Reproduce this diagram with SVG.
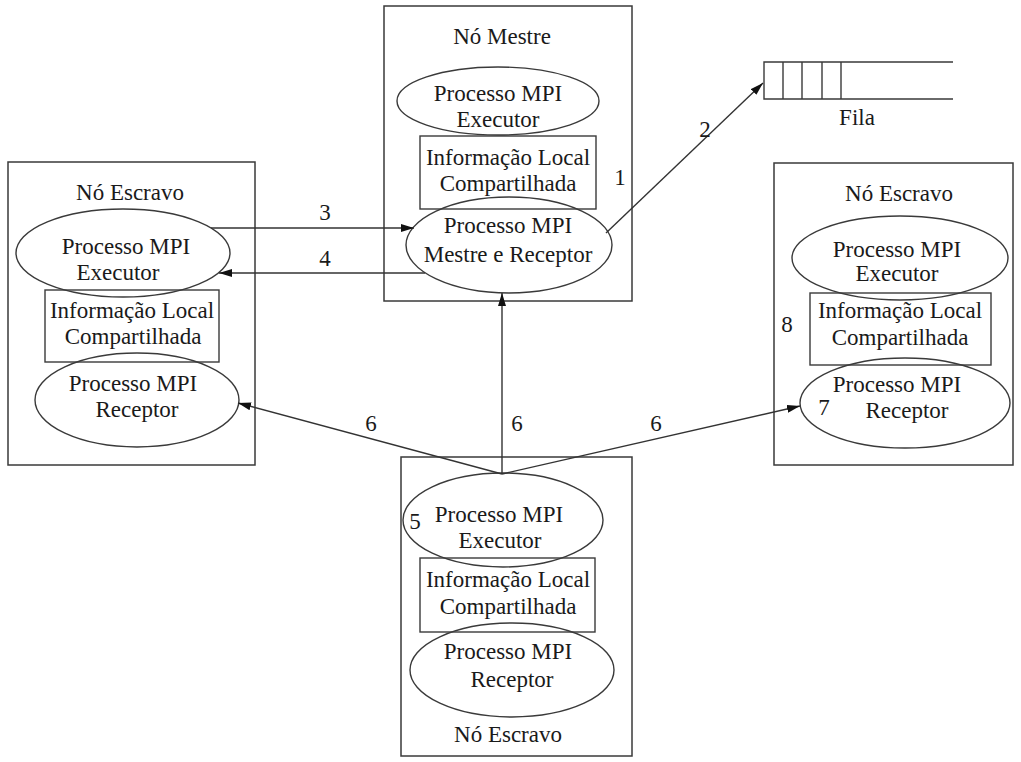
<svg xmlns="http://www.w3.org/2000/svg" width="1021" height="762" viewBox="0 0 1021 762">
<style>
.box{fill:none;stroke:#3a3a3a;stroke-width:1.5}
.sh{fill:none;stroke:#3a3a3a;stroke-width:1.4}
.t{font-family:"Liberation Serif","Times New Roman",serif;font-size:23px;fill:#1a1a1a;text-anchor:middle}
.c{stroke:#333;stroke-width:1.4;fill:none;marker-end:url(#ah)}
</style>
<defs>
<marker id="ah" markerUnits="userSpaceOnUse" markerWidth="13" markerHeight="8" refX="13" refY="4" orient="auto">
<path d="M0,0 L13,4 L0,8 z" fill="#111"/>
</marker>
</defs>
<rect width="1021" height="762" fill="#fff"/>

<g id="master">
<rect class="box" x="384" y="6" width="248" height="295"/>
<text class="t" x="502" y="44">Nó Mestre</text>
<g id="master-exec"><ellipse class="sh" cx="498" cy="101" rx="101" ry="34"/>
<text class="t" x="498" y="101">Processo MPI</text><text class="t" x="498" y="127">Executor</text></g>
<g id="master-info"><rect class="sh" x="420" y="136" width="176" height="73"/>
<text class="t" x="508" y="165">Informação Local</text><text class="t" x="508" y="191">Compartilhada</text></g>
<g id="master-recv"><ellipse class="sh" cx="509" cy="245" rx="103" ry="48"/>
<text class="t" x="508" y="233">Processo MPI</text><text class="t" x="508" y="262">Mestre e Receptor</text></g>
<text class="t" x="620" y="185">1</text>
</g>

<g id="slave-left">
<rect class="box" x="8" y="162" width="247" height="303"/>
<text class="t" x="130" y="200">Nó Escravo</text>
<g id="left-exec"><ellipse class="sh" cx="123" cy="253" rx="107" ry="44"/>
<text class="t" x="126" y="254">Processo MPI</text><text class="t" x="118" y="280">Executor</text></g>
<g id="left-info"><rect class="sh" x="45" y="290" width="174" height="72"/>
<text class="t" x="132" y="318">Informação Local</text><text class="t" x="133" y="344">Compartilhada</text></g>
<g id="left-recv"><ellipse class="sh" cx="137" cy="400" rx="102" ry="47"/>
<text class="t" x="133" y="391">Processo MPI</text><text class="t" x="137" y="417">Receptor</text></g>
</g>

<g id="slave-right">
<rect class="box" x="774" y="163" width="239" height="302"/>
<text class="t" x="899" y="201">Nó Escravo</text>
<g id="right-exec"><ellipse class="sh" cx="900" cy="258" rx="108" ry="42"/>
<text class="t" x="897" y="257">Processo MPI</text><text class="t" x="897" y="281">Executor</text></g>
<g id="right-info"><rect class="sh" x="810" y="293" width="181" height="72"/>
<text class="t" x="900" y="318">Informação Local</text><text class="t" x="900" y="345">Compartilhada</text></g>
<g id="right-recv"><ellipse class="sh" cx="905" cy="403" rx="105" ry="45"/>
<text class="t" x="897" y="392">Processo MPI</text><text class="t" x="907" y="418">Receptor</text></g>
<text class="t" x="787" y="332">8</text>
<text class="t" x="824" y="415">7</text>
</g>

<g id="slave-bottom">
<rect class="box" x="401" y="457" width="231" height="299"/>
<g id="bottom-exec"><ellipse class="sh" cx="503" cy="520" rx="100" ry="47"/>
<text class="t" x="499" y="522">Processo MPI</text><text class="t" x="500" y="548">Executor</text></g>
<g id="bottom-info"><rect class="sh" x="420" y="558" width="175" height="74"/>
<text class="t" x="508" y="587">Informação Local</text><text class="t" x="508" y="614">Compartilhada</text></g>
<g id="bottom-recv"><ellipse class="sh" cx="512" cy="670" rx="102" ry="47"/>
<text class="t" x="508" y="659">Processo MPI</text><text class="t" x="512" y="687">Receptor</text></g>
<text class="t" x="508" y="742">Nó Escravo</text>
<text class="t" x="415" y="529">5</text>
</g>

<g id="queue">
<path class="sh" d="M953,62 H764 V99 H953 M783,62 V99 M802,62 V99 M822,62 V99 M841,62 V99"/>
<text class="t" x="857" y="125">Fila</text>
</g>

<g id="connectors">
<line class="c" x1="606" y1="233" x2="763" y2="83"/>
<line class="c" x1="211" y1="228" x2="414" y2="228"/>
<line class="c" x1="425" y1="273" x2="219" y2="273"/>
<line class="c" x1="502" y1="474" x2="502" y2="293"/>
<line class="c" x1="502" y1="474" x2="238" y2="403"/>
<line class="c" x1="502" y1="474" x2="800" y2="406"/>
<g id="connector-labels">
<text class="t" x="705" y="137">2</text>
<text class="t" x="325" y="220">3</text>
<text class="t" x="325" y="266">4</text>
<text class="t" x="371" y="431">6</text>
<text class="t" x="517" y="431">6</text>
<text class="t" x="656" y="431">6</text>
</g>
</g>
</svg>
